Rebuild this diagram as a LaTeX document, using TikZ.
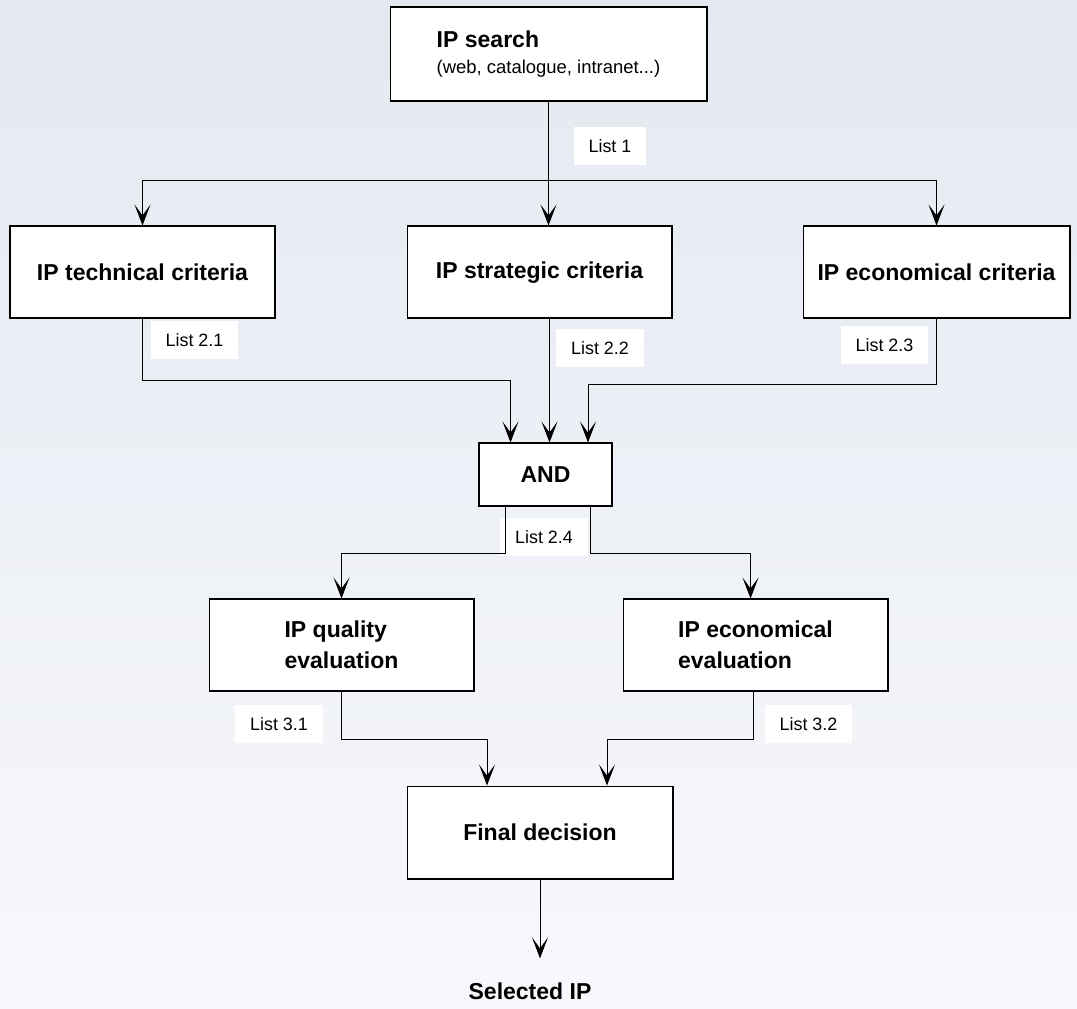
\documentclass[tikz,border=0pt]{standalone}
\usepackage{fontspec}
\setmainfont{Liberation Sans}
\usetikzlibrary{arrows.meta}

\definecolor{bgtop}{RGB}{228,233,241}
\definecolor{bgbottom}{RGB}{247,248,251}

\begin{document}
\begin{tikzpicture}[x=0.02cm,y=-0.02cm,
      box_node/.style={
         draw=black,
         fill=white,
         line width=0.6pt,
         inner sep=0pt,
         minimum width=5.3cm,
         minimum height=1.84cm,
         align=center,
         font=\fontsize{13.1}{17.6}\selectfont\bfseries},
      list_lbl/.style={
         fill=white,
         inner xsep=0.3cm,
         inner ysep=0.25cm,
         font=\fontsize{10.2}{12}\selectfont},
      arrow_black/.style={
         -{Stealth[length=0.42cm,width=0.32cm,inset=0.22cm]},
         line width=0.5pt,
         }
]
      \shade[top color=bgtop,bottom color=bgbottom] (0,0) rectangle (1077,1008);
      \useasboundingbox (0,0) rectangle (1077,1008);

      %list labels
      \foreach \n/\x/\y/\txt in {%
         l1/610/146/List 1,
         l21/194.5/340/List 2.1,
         l22/600/348/List 2.2,
         l23/884.5/345/List 2.3,
         l24/544/537/List 2.4,
         l31/279/724/List 3.1,
         l32/808.5/724/List 3.2}
         \node[list_lbl] (\n) at (\x,\y) {\txt};

      %search
      \node[box_node,minimum width=6.34cm,minimum height=1.88cm,align=left] (search) at (548.5,54)
         {IP search\\[-3pt]{\fontsize{10.5}{12}\selectfont\mdseries (web, catalogue, intranet...)}};

      %criteria
      \node[box_node] (tech) at (142.5,272) {IP technical criteria};
      \node[box_node] (strat) at (539.5,272) {\strut IP strategic criteria};
      \node[box_node,minimum width=5.34cm] (econ) at (936.5,272) {IP economical criteria};

      \node[box_node,minimum width=2.66cm,minimum height=1.26cm] (and) at (545.5,474.5) {AND};

      %evaluation
      \node[box_node,align=left] (qual) at (341.5,645) {IP quality\\evaluation};
      \node[box_node,align=left] (eeval) at (755.5,645) {IP economical\\evaluation};

      \node[box_node,minimum width=5.32cm,minimum height=1.86cm] (final) at (540,832.5) {Final decision};
      \node[font=\fontsize{13.1}{15}\selectfont\bfseries] (sel) at (530,991) {Selected IP};

      \coordinate (bus) at (548.5,180);
      \draw[line width=0.5pt] (search.south) -- (bus);
      \foreach \j in {tech,econ}
         \draw[arrow_black] (bus) -| (\j.north);
      \draw[arrow_black] (bus) -- (bus |- strat.north);

      \draw[arrow_black] (tech.south) -- ++(0,62) -| ([xshift=-0.7cm]and.north);
      \draw[arrow_black] ([xshift=0.2cm]strat.south) -- ([xshift=0.2cm]strat.south |- and.north);
      \draw[arrow_black] (econ.south) -- ++(0,66) -| ([xshift=0.85cm]and.north);

      \draw[arrow_black] ([xshift=-0.8cm]and.south) -- ++(0,47) -| (qual.north);
      \draw[arrow_black] ([xshift=0.9cm]and.south) -- ++(0,47) -| ([xshift=-0.1cm]eeval.north);

      \draw[arrow_black] (qual.south) -- ++(0,48) -| ([xshift=-1.06cm]final.north);
      \draw[arrow_black] ([xshift=-0.05cm]eeval.south) -- ++(0,48) -| ([xshift=1.34cm]final.north);

      \draw[arrow_black,shorten >=0.36cm] (final.south) -- (final.south |- sel.north);
\end{tikzpicture}
\end{document}
